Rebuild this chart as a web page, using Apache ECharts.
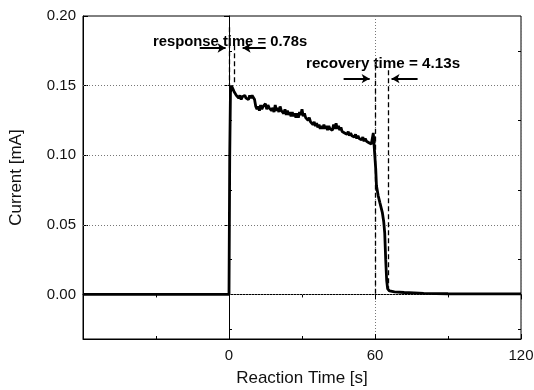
<!DOCTYPE html>
<html>
<head>
<meta charset="utf-8">
<script src="https://cdn.jsdelivr.net/npm/echarts@6/dist/echarts.min.js"></script>
<style>html,body{margin:0;padding:0;background:#fff;}#c{width:534px;height:390px;}</style>
</head>
<body>
<div id="c"></div>
<script>
// ---- data ----
const timeS = [-60, 0, 0.3, 0.6, 1.0, 1.5, 2, 2.5, 3, 3.5,
  4, 4.5, 5, 5.5, 6, 6.5, 7, 7.5, 8, 8.5, 9, 9.5, 10, 10.5, 11, 11.5, 12, 12.5, 13, 13.5,
  14, 14.5, 15, 15.5, 16, 16.5, 17, 17.5, 18, 18.5, 19, 19.5, 20, 20.5, 21, 21.5, 22, 22.5, 23, 23.5,
  24, 24.5, 25, 25.5, 26, 26.5, 27, 27.5, 28, 28.5, 29, 29.5, 30, 30.5, 31, 31.5, 32, 32.5, 33, 33.5,
  34, 34.5, 35, 35.5, 36, 36.5, 37, 37.5, 38, 38.5, 39, 39.5, 40, 40.5, 41, 41.5, 42, 42.5, 43, 43.5,
  44, 44.5, 45, 45.5, 46, 46.5, 47, 47.5, 48, 48.5, 49, 49.5, 50, 50.5, 51, 51.5, 52, 52.5, 53, 53.5,
  54, 54.5, 55, 55.5, 56, 56.5, 57, 57.5, 58, 58.5, 59, 59.3, 59.6,
  60, 60.3, 60.6, 61.3, 62, 63, 63.6, 64, 64.4, 64.8, 65.2, 66, 68, 72, 80, 90, 120];
const currentMA = [0, 0, 0.100, 0.145, 0.150, 0.148, 0.146, 0.145, 0.143, 0.142,
  0.141, 0.143, 0.140, 0.142, 0.141, 0.143, 0.141, 0.142, 0.140, 0.143, 0.141, 0.143, 0.142, 0.140, 0.135, 0.133, 0.135, 0.132, 0.136, 0.133,
  0.135, 0.134, 0.137, 0.133, 0.136, 0.134, 0.135, 0.132, 0.134, 0.131, 0.136, 0.132, 0.134, 0.131, 0.135, 0.132, 0.133, 0.130, 0.133, 0.129,
  0.132, 0.129, 0.131, 0.128, 0.131, 0.128, 0.130, 0.127, 0.130, 0.127, 0.131, 0.129, 0.133, 0.128, 0.130, 0.127, 0.128, 0.125, 0.127, 0.124,
  0.125, 0.122, 0.124, 0.121, 0.123, 0.120, 0.122, 0.119, 0.121, 0.119, 0.122, 0.119, 0.121, 0.118, 0.121, 0.119, 0.120, 0.118, 0.122, 0.119,
  0.123, 0.119, 0.121, 0.118, 0.120, 0.117, 0.118, 0.116, 0.117, 0.115, 0.117, 0.114, 0.116, 0.114, 0.115, 0.113, 0.115, 0.112, 0.114, 0.112,
  0.113, 0.111, 0.113, 0.110, 0.112, 0.110, 0.111, 0.109, 0.110, 0.108, 0.109, 0.116, 0.108,
  0.107, 0.090, 0.078, 0.071, 0.066, 0.059, 0.052, 0.044, 0.025, 0.010, 0.004, 0.0025, 0.0018, 0.0014, 0.0008, 0.0005, 0.0004];

const xLabelHidden = [-60];
const yTickLabels = [0.00, 0.05, 0.10, 0.15, 0.20];
const yMinorTicks = [-0.025, 0.025, 0.075, 0.125, 0.175];
const yGridValues = [0.00, 0.05, 0.10, 0.15];
const yRange = [-0.032, 0.20];

// annotation geometry (data units)
const respLines = [[0, 0.192, 0.150], [2, 0.179, 0.152]];
const respArrows = [[-12, -1.4, 0.177], [15.1, 5.6, 0.177]];
const recLines = [[60, 0.165, 0.0], [65.5, 0.161, 0.0]];
const recArrows = [[47.1, 57.8, 0.155], [77.5, 66.8, 0.155]];
const respText = 'response time = 0.78s';
const recText = 'recovery time = 4.13s';

const FONT = 'Liberation Sans, Arial, sans-serif';

function vLines(list) {
  return list.map(l => [{coord: [l[0], l[1]]}, {coord: [l[0], l[2]]}]);
}
function arrows(list) {
  return list.map(a => [{coord: [a[0], a[2]], symbol: 'none'}, {coord: [a[1], a[2]], symbol: 'arrow', symbolSize: [7, 8]}]);
}

const chart = echarts.init(document.getElementById('c'), null, {renderer: 'canvas'});
const option = {
  backgroundColor: '#fff',
  animation: false,
  grid: {left: 83, right: 13, top: 16, bottom: 51, containLabel: false, outerBoundsMode: 'none',
    show: true, borderColor: '#000', borderWidth: 1, backgroundColor: 'transparent'},
  xAxis: [{
    type: 'value', min: -60, max: 120, interval: 60,
    name: 'Reaction Time [s]', nameLocation: 'middle', nameGap: 31,
    nameTextStyle: {fontFamily: FONT, fontSize: 17, color: '#111'},
    axisLine: {show: true, onZero: false, lineStyle: {color: '#000'}},
    axisTick: {show: true, inside: true, length: 5, lineStyle: {color: '#000'}},
    minorTick: {show: true, splitNumber: 2, length: 3, lineStyle: {color: '#000'}},
    axisLabel: {fontFamily: FONT, fontSize: 15, color: '#111', margin: 9,
      formatter: v => xLabelHidden.indexOf(v) >= 0 ? '' : String(v)},
    splitLine: {show: true, lineStyle: {color: '#777', type: [1, 2], width: 1}}
  }, {
    type: 'value', min: -60, max: 120, interval: 60, position: 'top',
    axisLine: {show: true, lineStyle: {color: '#000'}},
    axisTick: {show: true, inside: true, length: 5, lineStyle: {color: '#000'}},
    minorTick: {show: true, splitNumber: 2, length: 3, lineStyle: {color: '#000'}},
    axisLabel: {show: false}, splitLine: {show: false}
  }],
  yAxis: [{
    type: 'value', min: yRange[0], max: yRange[1],
    name: 'Current [mA]', nameLocation: 'middle', nameGap: 58,
    nameTextStyle: {fontFamily: FONT, fontSize: 17, color: '#111'},
    axisLine: {show: true, onZero: false, lineStyle: {color: '#000'}},
    axisTick: {show: true, inside: true, length: 5, customValues: yTickLabels, lineStyle: {color: '#000'}},
    axisLabel: {fontFamily: FONT, fontSize: 15, color: '#111', margin: 7, customValues: yTickLabels,
      formatter: v => v.toFixed(2)},
    splitLine: {show: false}
  }, {
    type: 'value', min: yRange[0], max: yRange[1], position: 'left',
    axisLine: {show: false},
    axisTick: {show: true, inside: true, length: 3, customValues: yMinorTicks, lineStyle: {color: '#000'}},
    axisLabel: {show: false}, splitLine: {show: false}
  }, {
    type: 'value', min: yRange[0], max: yRange[1], position: 'right',
    axisLine: {show: true, lineStyle: {color: '#000'}},
    axisTick: {show: true, inside: true, length: 5, customValues: yTickLabels, lineStyle: {color: '#000'}},
    axisLabel: {show: false}, splitLine: {show: false}
  }, {
    type: 'value', min: yRange[0], max: yRange[1], position: 'right',
    axisLine: {show: false},
    axisTick: {show: true, inside: true, length: 3, customValues: yMinorTicks, lineStyle: {color: '#000'}},
    axisLabel: {show: false}, splitLine: {show: false}
  }],
  series: [{
    type: 'line', data: [], silent: true,
    markLine: {
      silent: true, symbol: 'none', animation: false,
      label: {show: false},
      lineStyle: {color: '#777', type: [1, 2], width: 1},
      data: yGridValues.map(v => ({yAxis: v}))
    }
  }, {
    type: 'line',
    data: timeS.map((t, i) => [t, currentMA[i]]),
    showSymbol: false, symbol: 'none',
    lineStyle: {color: '#000', width: 2.8},
    z: 5
  }, {
    type: 'line', data: [], silent: true, z: 6,
    markLine: {
      silent: true, symbol: 'none', animation: false, label: {show: false},
      lineStyle: {color: '#000', type: [5, 3], width: 1.3},
      data: vLines(respLines).concat(vLines(recLines))
    }
  }, {
    type: 'line', data: [], silent: true, z: 6,
    markLine: {
      silent: true, animation: false, label: {show: false},
      lineStyle: {color: '#000', type: 'solid', width: 2},
      data: arrows(respArrows).concat(arrows(recArrows))
    }
  }],
  graphic: [
    {type: 'text', left: 153, top: 34, style: {text: respText, font: 'bold 14.8px ' + FONT, fill: '#000'}},
    {type: 'text', left: 306, top: 56, style: {text: recText, font: 'bold 15.2px ' + FONT, fill: '#000'}}
  ]
};
chart.setOption(option);
</script>
</body>
</html>
